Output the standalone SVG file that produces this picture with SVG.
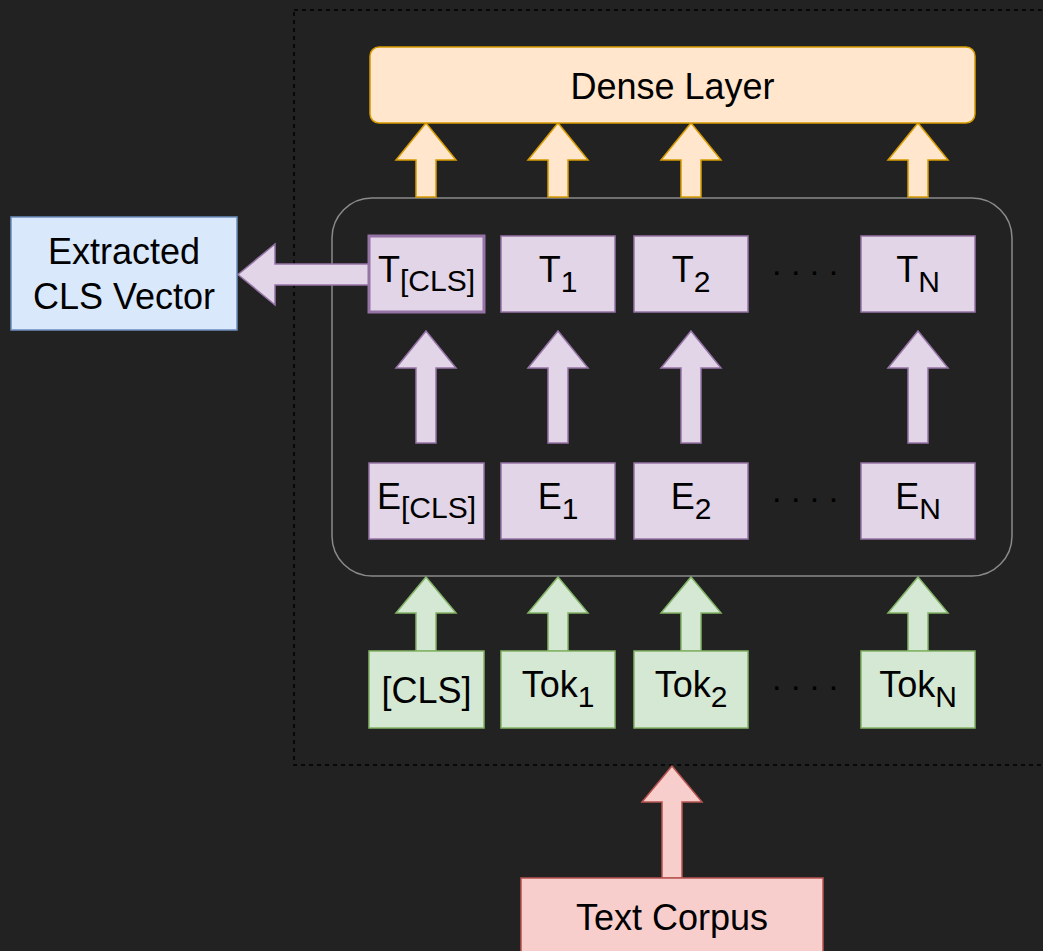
<svg xmlns="http://www.w3.org/2000/svg" width="1043" height="951" viewBox="0 0 1043 951">
<style>
text{font-family:"Liberation Sans",Arial,Helvetica,sans-serif;font-size:36px;fill:#000;text-anchor:middle}
.sub{font-size:30px}
.dots{font-size:34px;text-anchor:start}
.purple{fill:#e1d5e7;stroke:#9673a6;stroke-width:1.5}
.green{fill:#d5e8d4;stroke:#82b366;stroke-width:1.5}
.yellow{fill:#ffe6cc;stroke:#d79b00;stroke-width:1.5}
.red{fill:#f8cecc;stroke:#b85450;stroke-width:1.5}
.blue{fill:#dae8fc;stroke:#6c8ebf;stroke-width:1.5}
</style>
<rect x="0" y="0" width="1043" height="951" fill="#222222"/>
<g id="frame">
<rect x="294" y="10" width="780" height="755" fill="none" stroke="#000" stroke-width="1.5" stroke-dasharray="4 4"/>
<rect x="332" y="198" width="680" height="378" rx="40" ry="40" fill="none" stroke="#8a8a8a" stroke-width="1.5"/>
</g>
<g id="connectors">
<polygon class="yellow" points="426,123 456,160 436,160 436,197 416,197 416,160 396,160"/>
<polygon class="yellow" points="558,123 588,160 568,160 568,197 548,197 548,160 528,160"/>
<polygon class="yellow" points="691,123 721,160 701,160 701,197 681,197 681,160 661,160"/>
<polygon class="yellow" points="918,123 948,160 928,160 928,197 908,197 908,160 888,160"/>
<polygon class="purple" points="426,331 456,368 436,368 436,443 416,443 416,368 396,368"/>
<polygon class="purple" points="558,331 588,368 568,368 568,443 548,443 548,368 528,368"/>
<polygon class="purple" points="691,331 721,368 701,368 701,443 681,443 681,368 661,368"/>
<polygon class="purple" points="918,331 948,368 928,368 928,443 908,443 908,368 888,368"/>
<polygon class="green" points="426,577 456,613 436,613 436,651 416,651 416,613 396,613"/>
<polygon class="green" points="558,577 588,613 568,613 568,651 548,651 548,613 528,613"/>
<polygon class="green" points="691,577 721,613 701,613 701,651 681,651 681,613 661,613"/>
<polygon class="green" points="918,577 948,613 928,613 928,651 908,651 908,613 888,613"/>
<polygon class="red" points="672,766 702,802 682,802 682,878 662,878 662,802 642,802"/>
<polygon class="purple" points="238,274.5 275,244 275,264 369,264 369,285 275,285 275,305"/>
</g>
<g id="dense">
<rect class="yellow" x="370" y="47" width="605" height="76" rx="9" ry="9"/>
<text x="672.5" y="99">Dense Layer</text>
</g>
<g id="extracted">
<rect class="blue" x="11" y="217" width="226" height="113"/>
<text x="124" y="264">Extracted</text>
<text x="124" y="309">CLS Vector</text>
</g>
<g id="t-cls">
<rect x="369" y="236" width="115" height="76" fill="#e1d5e7" stroke="#9673a6" stroke-width="3"/>
<text x="426.5" y="282">T<tspan class="sub" dy="9">[CLS]</tspan></text>
</g>
<g id="t1">
<rect class="purple" x="501" y="236" width="114" height="76"/>
<text x="558" y="282">T<tspan class="sub" dy="10">1</tspan></text>
</g>
<g id="t2">
<rect class="purple" x="634" y="236" width="114" height="76"/>
<text x="691" y="282">T<tspan class="sub" dy="10">2</tspan></text>
</g>
<g id="tn">
<rect class="purple" x="861" y="236" width="114" height="76"/>
<text x="918" y="282">T<tspan class="sub" dy="10">N</tspan></text>
</g>
<g id="e-cls">
<rect class="purple" x="369" y="463" width="115" height="76"/>
<text x="426.5" y="509">E<tspan class="sub" dy="9">[CLS]</tspan></text>
</g>
<g id="e1">
<rect class="purple" x="501" y="463" width="114" height="76"/>
<text x="558" y="509">E<tspan class="sub" dy="10">1</tspan></text>
</g>
<g id="e2">
<rect class="purple" x="634" y="463" width="114" height="76"/>
<text x="691" y="509">E<tspan class="sub" dy="10">2</tspan></text>
</g>
<g id="en">
<rect class="purple" x="861" y="463" width="114" height="76"/>
<text x="918" y="509">E<tspan class="sub" dy="10">N</tspan></text>
</g>
<g id="tok-cls">
<rect class="green" x="369" y="651" width="115" height="77"/>
<text x="426.5" y="703">[CLS]</text>
</g>
<g id="tok1">
<rect class="green" x="501" y="651" width="114" height="77"/>
<text x="558" y="697">Tok<tspan class="sub" dy="10">1</tspan></text>
</g>
<g id="tok2">
<rect class="green" x="634" y="651" width="114" height="77"/>
<text x="691" y="697">Tok<tspan class="sub" dy="10">2</tspan></text>
</g>
<g id="tokn">
<rect class="green" x="861" y="651" width="114" height="77"/>
<text x="918" y="697">Tok<tspan class="sub" dy="10">N</tspan></text>
</g>
<g id="dots">
<text class="dots" x="772" y="275">. . . .</text>
<text class="dots" x="772" y="502">. . . .</text>
<text class="dots" x="772" y="690">. . . .</text>
</g>
<g id="corpus">
<rect class="red" x="521" y="878" width="302" height="90"/>
<text x="672" y="930">Text Corpus</text>
</g>
</svg>
